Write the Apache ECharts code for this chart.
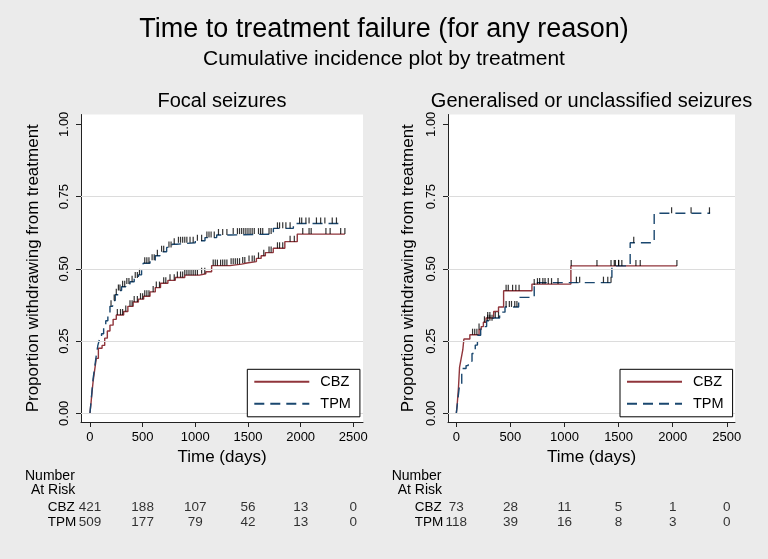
<!DOCTYPE html>
<html>
<head>
<meta charset="utf-8">
<script src="https://cdn.jsdelivr.net/npm/echarts@6/dist/echarts.min.js"></script>
<style>html,body{margin:0;padding:0;background:#ebebeb;}#c{width:768px;height:559px;}</style>
</head>
<body>
<div id="c"></div>
<script>
// ---------- data ----------
const groups = ['CBZ', 'TPM'];
const xTicks = [0, 500, 1000, 1500, 2000, 2500];
const yTicks = [0, 0.25, 0.5, 0.75, 1];
const gridLineValues = [0, 0.25, 0.5, 0.75];

// cumulative incidence step curves [time (days), proportion]
const focalCBZ = [[0,0],[10,0.035],[20,0.075],[30,0.11],[45,0.15],[60,0.19],[80,0.225],[115,0.235],[140,0.26],[165,0.285],[190,0.305],[220,0.325],[250,0.34],[320,0.352],[360,0.37],[410,0.385],[460,0.395],[510,0.405],[570,0.42],[620,0.435],[670,0.45],[740,0.46],[810,0.47],[900,0.478],[1040,0.483],[1100,0.49],[1155,0.511],[1330,0.516],[1440,0.52],[1490,0.525],[1580,0.536],[1625,0.545],[1665,0.556],[1740,0.571],[1850,0.594],[1968,0.62],[2420,0.62]];
const focalTPM = [[0,0],[10,0.04],[20,0.08],[30,0.12],[45,0.16],[60,0.2],[75,0.235],[90,0.255],[110,0.275],[130,0.295],[150,0.32],[170,0.345],[190,0.37],[215,0.39],[240,0.41],[270,0.425],[300,0.438],[340,0.447],[380,0.455],[420,0.468],[460,0.479],[490,0.5],[506,0.519],[570,0.53],[620,0.545],[665,0.559],[728,0.574],[780,0.585],[823,0.59],[1000,0.597],[1092,0.608],[1203,0.617],[1330,0.62],[1741,0.64],[1931,0.657],[2358,0.657]];
const genCBZ = [[0,0],[10,0.04],[20,0.09],[30,0.16],[45,0.19],[60,0.22],[70,0.257],[125,0.272],[210,0.29],[230,0.30],[250,0.315],[275,0.33],[345,0.352],[390,0.368],[437,0.424],[699,0.447],[1059,0.51],[2039,0.51]];
const genTPM = [[0,0],[15,0.05],[30,0.1],[50,0.155],[90,0.165],[110,0.18],[145,0.207],[175,0.236],[195,0.27],[225,0.30],[280,0.32],[340,0.33],[400,0.35],[450,0.368],[576,0.401],[720,0.444],[740,0.452],[1438,0.51],[1607,0.59],[1829,0.692],[2346,0.692]];

// censoring times (days)
const focalCBZCens = [260,290,310,340,380,400,420,450,480,500,520,540,560,600,630,660,700,720,760,800,830,860,880,900,920,940,960,980,1000,1020,1060,1090,1170,1190,1210,1240,1260,1280,1300,1340,1360,1380,1400,1420,1450,1470,1510,1540,1560,1600,1650,1700,1720,1780,1800,1830,1900,1940,2020,2080,2100,2240,2280,2380,2420];
const focalTPMCens = [200,230,250,270,285,310,330,350,370,400,430,450,470,520,540,560,590,610,640,680,700,750,770,800,840,860,880,900,920,950,980,1020,1060,1110,1130,1150,1180,1220,1260,1300,1360,1400,1420,1440,1460,1480,1500,1520,1540,1560,1600,1620,1640,1700,1720,1780,1800,1830,1860,1900,1990,2010,2050,2080,2150,2190,2230,2300,2340];
const genCBZCens = [150,170,190,210,260,290,310,460,480,520,550,580,750,770,800,820,850,880,940,1062,1300,1430,1470,1500,1530,1660,1700,2039];
const genTPMCens = [290,310,330,360,390,460,490,510,540,560,720,1110,1140,1360,1400,1430,1460,1500,1640,1990,2170,2340];

// number at risk
const riskTimes = [0, 500, 1000, 1500, 2000, 2500];
const focalRiskCBZ = [421, 188, 107, 56, 13, 0];
const focalRiskTPM = [509, 177, 79, 42, 13, 0];
const genRiskCBZ = [73, 28, 11, 5, 1, 0];
const genRiskTPM = [118, 39, 16, 8, 3, 0];

const titleMain = 'Time to treatment failure (for any reason)';
const titleSub = 'Cumulative incidence plot by treatment';
const panelTitles = ['Focal seizures', 'Generalised or unclassified seizures'];
const xName = 'Time (days)';
const yName = 'Proportion withdrawing from treatment';

// ---------- layout / style ----------
const FONT = '"Liberation Sans", Arial, Helvetica, sans-serif';
const colCBZ = '#90353B', colTPM = '#1A476F';
const panels = [
  {left: 81, width: 282, xmin: -85, xmax: 2592, nameGap: 39.5, legendLeft: 247.3, textX: 25,
   cbz: focalCBZ, tpm: focalTPM, cbzC: focalCBZCens, tpmC: focalTPMCens, rc: focalRiskCBZ, rt: focalRiskTPM},
  {left: 448, width: 287, xmin: -77, xmax: 2576, nameGap: 31, legendLeft: 620, textX: 391.7,
   cbz: genCBZ, tpm: genTPM, cbzC: genCBZCens, tpmC: genTPMCens, rc: genRiskCBZ, rt: genRiskTPM}
];
const gTop = 114.5, gHeight = 307.5, yMin = -0.0301, yMax = 1.0339;

function stepAt(curve, t) {
  let v = 0;
  for (const [x, y] of curve) { if (x <= t) v = y; }
  return v;
}

const grid = [], xAxis = [], yAxis = [], series = [], legend = [], graphic = [];
// main plot panels: grid/axis indices 0 and 1
panels.forEach((p, i) => {
  grid.push({left: p.left, top: gTop, width: p.width, height: gHeight, show: true, backgroundColor: '#fff', borderWidth: 0, containLabel: false});
  xAxis.push({
    type: 'value', gridIndex: i, min: p.xmin, max: p.xmax,
    name: xName, nameLocation: 'middle', nameGap: 24.5,
    nameTextStyle: {fontSize: 17, color: '#000', fontFamily: FONT},
    axisLine: {show: true, onZero: false, lineStyle: {color: '#222', width: 1}},
    axisTick: {show: true, length: 5, customValues: xTicks, lineStyle: {color: '#222'}},
    axisLabel: {customValues: xTicks, fontSize: 13, color: '#000', fontFamily: FONT, margin: 9, formatter: v => String(v)},
    splitLine: {show: false}
  });
  yAxis.push({
    type: 'value', gridIndex: i, min: yMin, max: yMax,
    name: yName, nameLocation: 'middle', nameGap: p.nameGap,
    nameTextStyle: {fontSize: 17, color: '#000', fontFamily: FONT},
    axisLine: {show: true, onZero: false, lineStyle: {color: '#222', width: 1}},
    axisTick: {show: true, length: 5, customValues: yTicks, lineStyle: {color: '#222'}},
    axisLabel: {customValues: yTicks, rotate: 90, fontSize: 13, color: '#000', fontFamily: FONT, margin: 10,
      formatter: v => v.toFixed(2)},
    splitLine: {show: false}
  });
  series.push({
    type: 'line', xAxisIndex: i, yAxisIndex: i, data: [], z: 1, silent: true,
    markLine: {silent: true, symbol: 'none', label: {show: false}, animation: false,
      lineStyle: {color: '#dcdcdc', width: 1, type: 'solid'},
      data: gridLineValues.map(v => ({yAxis: v}))}
  });
  const curves = [[groups[0], p.cbz, p.cbzC, colCBZ, 'solid'], [groups[1], p.tpm, p.tpmC, colTPM, [10, 6]]];
  curves.forEach(([name, curve, cens, col, type]) => {
    series.push({
      name: name, type: 'line', step: 'end', xAxisIndex: i, yAxisIndex: i,
      data: curve, symbol: 'none', showSymbol: false, z: 3, silent: true,
      lineStyle: {color: col, width: 1.4, type: type}, itemStyle: {color: col}
    });
  });
  curves.forEach(([name, curve, cens]) => {
    series.push({
      name: name + ' censored', type: 'scatter', xAxisIndex: i, yAxisIndex: i, z: 4, silent: true,
      data: cens.map(t => [t, stepAt(curve, t)]),
      symbol: 'rect', symbolSize: [1.2, 6], symbolOffset: [0, -3],
      itemStyle: {color: '#000'}
    });
  });
  legend.push({
    data: groups, orient: 'vertical', left: p.legendLeft, top: 369.3, selectedMode: false, z: 10,
    backgroundColor: '#fff', borderColor: '#000', borderWidth: 1, borderRadius: 0,
    padding: [4.5, 9, 5, 6], itemWidth: 55, itemHeight: 12, itemGap: 6,
    itemStyle: {opacity: 0},
    textStyle: {fontSize: 14.5, color: '#000', fontFamily: FONT, lineHeight: 16, padding: [0, 0, 0, 6]}
  });
  graphic.push({type: 'text', style: {text: panelTitles[i], x: p.left + p.width / 2, y: 101, align: 'center', verticalAlign: 'middle', font: '20px ' + FONT, fill: '#000'}});
  graphic.push({type: 'text', style: {text: 'Number', x: p.textX, y: 475.7, align: 'left', verticalAlign: 'middle', font: '14px ' + FONT, fill: '#000'}});
  graphic.push({type: 'text', style: {text: 'At Risk', x: p.textX + 6, y: 490, align: 'left', verticalAlign: 'middle', font: '14px ' + FONT, fill: '#000'}});
});
// risk tables: grid/axis indices 2 and 3
panels.forEach((p, i) => {
  const gi = i + 2;
  grid.push({left: p.left, top: 499.6, width: p.width, height: 30.8, show: false});
  xAxis.push({type: 'value', gridIndex: gi, min: p.xmin, max: p.xmax, show: false});
  yAxis.push({type: 'category', gridIndex: gi, data: groups, inverse: true,
    axisLine: {show: false}, axisTick: {show: false}, splitLine: {show: false},
    axisLabel: {interval: 0, hideOverlap: false, align: 'left', margin: 33.3, fontSize: 13.5, color: '#000', fontFamily: FONT}});
  [p.rc, p.rt].forEach((vals, k) => {
    series.push({
      name: groups[k] + ' at risk', type: 'scatter', xAxisIndex: gi, yAxisIndex: gi, silent: true,
      data: riskTimes.map((t, j) => [t, k, vals[j]]),
      symbolSize: 1, itemStyle: {color: 'transparent'},
      label: {show: true, position: 'inside', color: '#000', fontSize: 13.5, fontFamily: FONT,
        formatter: d => String(d.value[2])}
    });
  });
});
graphic.push({type: 'text', style: {text: titleMain, x: 384, y: 30, align: 'center', verticalAlign: 'middle', font: '27px ' + FONT, fill: '#000'}});
graphic.push({type: 'text', style: {text: titleSub, x: 384, y: 59, align: 'center', verticalAlign: 'middle', font: '21px ' + FONT, fill: '#000'}});

const chart = echarts.init(document.getElementById('c'), null, {renderer: 'canvas'});
chart.setOption({
  backgroundColor: '#ebebeb',
  animation: false,
  grid, xAxis, yAxis, series, legend, graphic
});
</script>
</body>
</html>
